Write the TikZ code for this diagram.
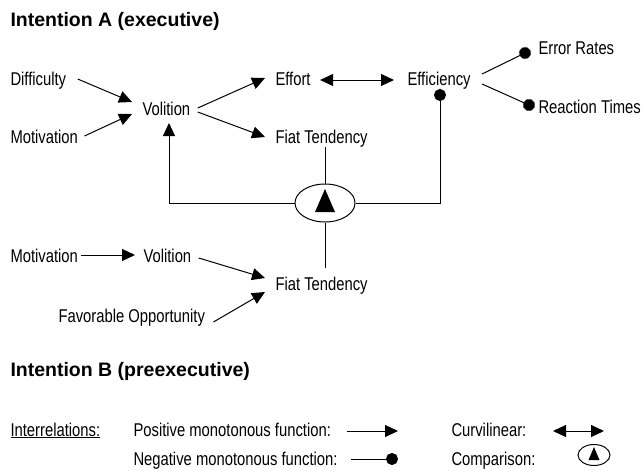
\documentclass[tikz,border=0pt]{standalone}
\usepackage{fontspec}
\setmainfont[FakeStretch=0.80]{Liberation Sans}
\newfontfamily\titlefont{Liberation Sans}
\usetikzlibrary{arrows.meta,shapes.geometric}
\begin{document}
\begin{tikzpicture}[x=1pt,y=-1pt,line width=1pt,
  font=\fontsize{18.5}{20}\selectfont,
  lbl/.style={anchor=base west,inner sep=0pt},
  ttl/.style={anchor=base west,inner sep=0pt,font=\titlefont\bfseries\fontsize{19.5}{22}\selectfont},
  posarr/.style={-{Triangle[length=13pt,width=12pt]}},
  curvarr/.style={{Triangle[length=13pt,width=12pt]}-{Triangle[length=13pt,width=12pt]}},
  negarr/.style={-{Circle[length=12pt]},shorten >=-6pt},
  cmpbox/.style={draw,ellipse,inner sep=0pt,minimum width=60pt,minimum height=38pt},
  cmpsmall/.style={draw,ellipse,inner sep=0pt,minimum width=32pt,minimum height=21pt}]
\useasboundingbox (0,0) rectangle (643,471);

% ---- Intention A
\node[ttl] (tA) at (10,26) {Intention A (executive)};
\node[lbl] (diff) at (10,85) {Difficulty};
\node[lbl] (mot1) at (10,143) {Motivation};
\node[lbl] (vol1) at (142,115) {Volition};
\node[lbl] (eff) at (275,85) {Effort};
\node[lbl] (fiat1) at (275,143) {Fiat Tendency};
\node[lbl] (effi) at (407,85) {Efficiency};
\node[lbl] (err) at (538,54) {Error Rates};
\node[lbl] (rt) at (538,113) {Reaction Times};

\node[cmpbox] (cmp) at (325,203) {};
\fill ([shift={(-10,9)}]cmp.center) -- ([shift={(10,9)}]cmp.center) -- ([shift={(0,-14)}]cmp.center) -- cycle;

\draw[posarr] ([shift={(11,-6)}]diff.base east) -- ([shift={(-10,-13)}]vol1.base west);
\draw[posarr] ([shift={(6,-7)}]mot1.base east) -- ([shift={(-10,-1)}]vol1.base west);
\draw[posarr] ([shift={(7,-7)}]vol1.base east) -- ([shift={(-10,-7)}]eff.base west);
\draw[posarr] ([shift={(7,-3)}]vol1.base east) -- ([shift={(-10,-6)}]fiat1.base west);
\draw[curvarr] ([shift={(9,-5)}]eff.base east) -- ([shift={(-13,-5)}]effi.base west);
\draw[negarr] ([shift={(11,-11)}]effi.base east) -- ([shift={(-13,-1)}]err.base west);
\draw[negarr] ([shift={(11,-1)}]effi.base east) -- ([shift={(-9,-8)}]rt.base west);

\coordinate (effdot) at ([shift={(33,10)}]effi.base west);
\coordinate (voltip) at ([shift={(27,8)}]vol1.base west);
\draw[negarr] (cmp.east) -| (effdot);
\draw[posarr] (cmp.west) -| (voltip);
\draw (cmp.north) -- (cmp.north |- fiat1.south);

% ---- Intention B
\node[lbl] (mot2) at (10,262) {Motivation};
\node[lbl] (vol2) at (143,262) {Volition};
\node[lbl] (fiat2) at (275,290) {Fiat Tendency};
\node[lbl] (fav) at (58,322) {Favorable Opportunity};
\node[ttl] (tB) at (10,376) {Intention B (preexecutive)};

\coordinate (fiat2top) at ([shift={(0,-22)}]cmp.south |- fiat2.base);
\draw (cmp.south) -- (fiat2top);
\draw[posarr] ([shift={(3,-7)}]mot2.base east) -- ([shift={(-8,-7)}]vol2.base west);
\draw[posarr] ([shift={(7,-4)}]vol2.base east) -- ([shift={(-10,-12)}]fiat2.base west);
\draw[posarr] ([shift={(8,0)}]fav.base east) -- ([shift={(-10,2)}]fiat2.base west);

% ---- Legend
\node[lbl] (ir) at (10,436) {\underline{Interrelations:}};
\node[lbl] (lp) at (133,436) {Positive monotonous function:};
\node[lbl] (ln) at (133,465) {Negative monotonous function:};
\node[lbl] (lc) at (451,436) {Curvilinear:};
\node[lbl] (lcmp) at (451,465) {Comparison:};

\coordinate (lpa) at (347,431);
\coordinate (lpb) at (398,431);
\coordinate (lna) at (351,459);
\coordinate (lnb) at (392,459);
\coordinate (lca) at (553,431);
\coordinate (lcb) at (604,431);
\draw[posarr] (lpa) -- (lpb);
\draw[negarr] (lna) -- (lnb);
\draw[curvarr] (lca) -- (lcb);
\node[cmpsmall] (lcm) at (594,455) {};
\fill ([shift={(-5.5,5)}]lcm.center) -- ([shift={(5.5,5)}]lcm.center) -- ([shift={(0,-8)}]lcm.center) -- cycle;
\end{tikzpicture}
\end{document}
